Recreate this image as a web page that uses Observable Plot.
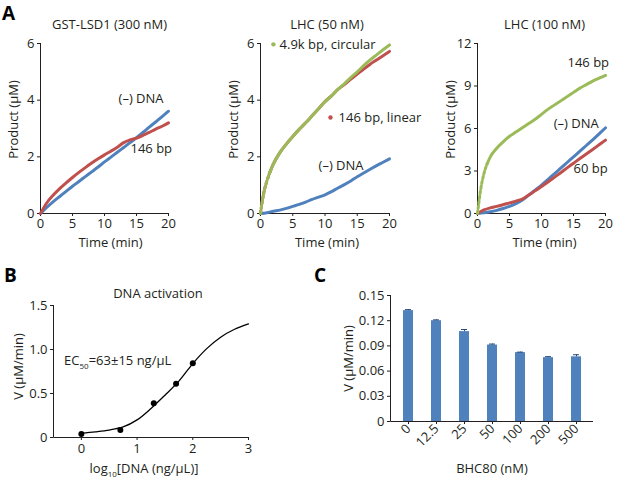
<!DOCTYPE html>
<html><head><meta charset="utf-8">
<script src="https://cdn.jsdelivr.net/npm/d3@7"></script>
<script src="https://cdn.jsdelivr.net/npm/@observablehq/plot@0.6"></script>
<style>
body{margin:0;background:#fff;}
#wrap{position:relative;width:617px;height:479px;overflow:hidden;font-family:"Open Sans",sans-serif;color:#231f20;}
#wrap svg{position:absolute;overflow:visible;}
.pl{position:absolute;font:bold 19px "Open Sans",sans-serif;line-height:22px;color:#000;}
</style></head><body><div id="wrap">
<div class="pl" style="left:2px;top:2px">A</div>
<div class="pl" style="left:4px;top:264px">B</div>
<div class="pl" style="left:314px;top:264px">C</div>
</div>
<script>
// ---------- data ----------
const time = [0,1,2,3,4,5,6,7,8,9,10,11,12,13,14,15,16,17,18,19,20];
const timeFine = [0,0.25,0.5,1,1.5,2,3,4,5,6,7,8,9,10,11,12,13,14,15,16,17,18,19,20];

// A1: GST-LSD1 (300 nM)
const a1NoDNA = [0,0.22,0.42,0.6,0.78,0.96,1.13,1.3,1.47,1.64,1.82,1.99,2.16,2.33,2.5,2.68,2.86,3.05,3.23,3.42,3.61];
const a1Bp146 = [0,0.38,0.65,0.88,1.08,1.27,1.45,1.62,1.78,1.93,2.07,2.2,2.34,2.5,2.6,2.66,2.76,2.86,2.98,3.08,3.2];

// A2: LHC (50 nM)
const a2Circular = [0,0.4,0.72,1.15,1.48,1.75,2.15,2.45,2.72,2.97,3.2,3.45,3.7,3.95,4.15,4.38,4.58,4.8,5.0,5.22,5.42,5.6,5.78,5.95];
const a2Linear   = [0,0.4,0.72,1.15,1.48,1.75,2.15,2.45,2.72,2.97,3.2,3.45,3.7,3.95,4.15,4.38,4.55,4.74,4.92,5.1,5.27,5.42,5.57,5.72];
const a2NoDNA = [0,0.03,0.08,0.12,0.18,0.25,0.32,0.4,0.5,0.58,0.66,0.77,0.9,1.02,1.15,1.3,1.43,1.56,1.69,1.81,1.93];

// A3: LHC (100 nM)
const a3Bp146 = [0,0.9,1.7,2.8,3.5,4.0,4.6,5.05,5.45,5.75,6.05,6.35,6.65,7.0,7.35,7.65,7.95,8.25,8.55,8.85,9.1,9.35,9.55,9.75];
const a3NoDNA = [0,0.05,0.12,0.22,0.35,0.5,0.7,0.95,1.3,1.65,2.0,2.4,2.8,3.2,3.6,4.0,4.4,4.8,5.2,5.62,6.05];
const a3Bp60  = [0,0.25,0.4,0.5,0.62,0.75,0.87,1.02,1.3,1.6,1.9,2.22,2.55,2.88,3.22,3.55,3.88,4.2,4.52,4.85,5.18];

// B: DNA activation
const bLogDNA = [0,0.7,1.3,1.7,2.0];
const bRate   = [0.04,0.085,0.39,0.61,0.845];
const bFitX = [0,0.25,0.5,0.75,1,1.25,1.5,1.75,2,2.25,2.5,2.75,3];
const bFitY = [0.05,0.065,0.085,0.12,0.2,0.33,0.48,0.64,0.84,1.01,1.14,1.23,1.29];

// C: BHC80 titration
const cBHC80 = ["0","12.5","25","50","100","200","500"];
const cRate  = [0.132,0.120,0.107,0.091,0.082,0.076,0.077];
const cErr   = [0.0012,0.001,0.0025,0.0012,0.0006,0.0012,0.0025];

// ---------- helpers ----------
const INK = "#231f20";
const BLUE = "#4f81bd", RED = "#c0504d", GREEN = "#9bbb59";
const wrap = document.getElementById("wrap");
const pts = (xs, ys) => xs.map((x, i) => ({x, y: ys[i]}));
const baseStyle = {fontFamily: "Open Sans", fontSize: "13px", color: INK, background: "transparent", overflow: "visible"};
const EARLY = 1.5; // rapid early rise is drawn as sparse dots in the reference

function axisLines() {
  return (index, scales, values, d) => {
    const g = d3.create("svg:g").attr("stroke", INK).attr("stroke-width", 1).attr("fill", "none");
    const x0 = d.marginLeft + 0.5, x1 = d.width - d.marginRight, y0 = d.marginTop, y1 = d.height - d.marginBottom + 0.5;
    g.append("line").attr("x1", x0).attr("x2", x0).attr("y1", y0).attr("y2", y1);
    g.append("line").attr("x1", x0).attr("x2", x1).attr("y1", y1).attr("y2", y1);
    return g.node();
  };
}

function subscripts(svg) {
  d3.select(svg).selectAll("text").each(function() {
    const s = this.textContent;
    if (!s.includes("_{")) return;
    const sel = d3.select(this);
    sel.text(null);
    let prevSub = false;
    s.split(/(_\{[^}]*\})/).forEach(part => {
      if (!part) return;
      if (part.startsWith("_{")) {
        sel.append("tspan").attr("font-size", "8px").attr("dy", "4px").text(part.slice(2, -1));
        prevSub = true;
      } else {
        const t = sel.append("tspan").text(part);
        if (prevSub) t.attr("dy", "-4px");
        prevSub = false;
      }
    });
  });
}

function place(svg, left, top) {
  svg.style.left = left + "px";
  svg.style.top = top + "px";
  wrap.appendChild(svg);
}

function seriesMarks([data, color, dottedStart]) {
  if (!dottedStart) return [Plot.line(data, {x: "x", y: "y", stroke: color, strokeWidth: 3, curve: "monotone-x"})];
  const early = data.filter(d => d.x <= EARLY), late = data.filter(d => d.x >= EARLY);
  return [
    Plot.line(early, {x: "x", y: "y", stroke: color, strokeWidth: 3, curve: "monotone-x", strokeDasharray: "2.5,2.5"}),
    Plot.line(late, {x: "x", y: "y", stroke: color, strokeWidth: 3, curve: "monotone-x"})
  ];
}

function panelA({left, width, mLeft, mRight, yMax, yTicks, title, titleDx, xLabDx, lines, labels, dots}) {
  const svg = Plot.plot({
    width, height: 250,
    marginLeft: mLeft, marginRight: mRight, marginTop: 43, marginBottom: 37,
    style: baseStyle,
    x: {domain: [0, 20], ticks: [0,5,10,15,20], tickFormat: d => String(d), tickSize: 3, tickPadding: 2, label: null},
    y: {domain: [0, yMax], ticks: yTicks, tickFormat: d => String(d), tickSize: 3, tickPadding: 3, label: null},
    marks: [
      axisLines(),
      ...lines.flatMap(seriesMarks),
      ...(dots || []).map(([x, y, color]) => Plot.dot([{x, y}], {x: "x", y: "y", r: 2.2, fill: color, stroke: null})),
      ...labels.map(([text, x, y]) => Plot.text([{x, y, text}], {x: "x", y: "y", text: "text", textAnchor: "start", fill: INK, fontSize: 13})),
      Plot.text([title], {frameAnchor: "top", dy: -19, dx: titleDx, textAnchor: "middle", lineAnchor: "middle", fill: INK, fontSize: 13}),
      Plot.text(["Time (min)"], {frameAnchor: "bottom", dy: 29, dx: xLabDx, textAnchor: "middle", lineAnchor: "middle", fill: INK, fontSize: 13}),
      Plot.text(["Product (µM)"], {frameAnchor: "left", rotate: -90, dx: -27, dy: -9, textAnchor: "middle", lineAnchor: "middle", fill: INK, fontSize: 13})
    ]
  });
  place(svg, left, 0);
}

// ---------- panel A ----------
panelA({
  left: 0, width: 200, mLeft: 40, mRight: 32, yMax: 6, yTicks: [0,2,4,6],
  title: "GST-LSD1 (300 nM)", titleDx: 5, xLabDx: 6,
  lines: [[pts(time, a1NoDNA), BLUE], [pts(time, a1Bp146), RED]],
  labels: [["(–) DNA", 12.2, 4.04], ["146 bp", 14.06, 2.28]]
});
panelA({
  left: 200, width: 205, mLeft: 60, mRight: 16, yMax: 6, yTicks: [0,2,4,6],
  title: "LHC (50 nM)", titleDx: 2, xLabDx: 2,
  lines: [[pts(time, a2NoDNA), BLUE], [pts(timeFine, a2Linear), RED, true], [pts(timeFine, a2Circular), GREEN, true]],
  labels: [["4.9k bp, circular", 2.95, 5.97], ["146 bp, linear", 12.1, 3.39], ["(–) DNA", 9.0, 1.69]],
  dots: [[2.0, 5.97, GREEN], [10.85, 3.39, RED]]
});
panelA({
  left: 405, width: 212, mLeft: 72, mRight: 12, yMax: 12, yTicks: [0,3,6,9,12],
  title: "LHC (100 nM)", titleDx: 3, xLabDx: 3,
  lines: [[pts(time, a3NoDNA), BLUE], [pts(time, a3Bp60), RED], [pts(timeFine, a3Bp146), GREEN, true]],
  labels: [["146 bp", 14.06, 10.66], ["(–) DNA", 11.9, 6.35], ["60 bp", 15.0, 3.18]]
});

// ---------- panel B ----------
{
  const svg = Plot.plot({
    width: 300, height: 219,
    marginLeft: 53, marginRight: 52, marginTop: 45, marginBottom: 42,
    style: baseStyle,
    x: {domain: [-0.5, 3], ticks: [0,1,2,3], tickFormat: d => String(d), tickSize: 3, tickPadding: 3, label: null},
    y: {domain: [0, 1.5], ticks: [0,0.5,1,1.5], tickFormat: d => d === 0 ? "0" : d.toFixed(1), tickSize: 3, tickPadding: 3, label: null},
    marks: [
      axisLines(),
      Plot.line(pts(bFitX, bFitY), {x: "x", y: "y", stroke: "#000", strokeWidth: 1.3, curve: "catmull-rom"}),
      Plot.dot(pts(bLogDNA, bRate), {x: "x", y: "y", r: 3, fill: "#000", stroke: null}),
      Plot.text([{x: -0.31, y: 0.875, t: "EC_{50}=63±15 ng/µL"}], {x: "x", y: "y", text: "t", textAnchor: "start", fill: INK, fontSize: 13}),
      Plot.text(["DNA activation"], {frameAnchor: "top", dy: -12, dx: 7, textAnchor: "middle", lineAnchor: "middle", fill: INK, fontSize: 13}),
      Plot.text(["log_{10}[DNA (ng/µL)]"], {frameAnchor: "bottom", dy: 31, dx: -7, textAnchor: "middle", lineAnchor: "middle", fill: INK, fontSize: 13}),
      Plot.text(["V (µM/min)"], {frameAnchor: "left", rotate: -90, dx: -35, dy: -5, textAnchor: "middle", lineAnchor: "middle", fill: INK, fontSize: 13})
    ]
  });
  subscripts(svg);
  place(svg, 0, 260);
}

// ---------- panel C ----------
{
  const bars = cBHC80.map((c, i) => ({c, v: cRate[i], hi: cRate[i] + cErr[i]}));
  const svg = Plot.plot({
    width: 312, height: 219,
    marginLeft: 85, marginRight: 24, marginTop: 35, marginBottom: 58,
    style: baseStyle,
    x: {domain: cBHC80, paddingInner: 0.65, paddingOuter: 0.4, tickSize: 3, tickPadding: 2, tickRotate: -45, label: null},
    y: {domain: [0, 0.15], ticks: [0,0.03,0.06,0.09,0.12,0.15], tickFormat: d => d === 0 ? "0" : d.toFixed(2), tickSize: 3, tickPadding: 3, label: null},
    marks: [
      Plot.barY(bars, {x: "c", y: "v", fill: BLUE}),
      Plot.ruleX(bars, {x: "c", y1: "v", y2: "hi", stroke: "#2a4a7a", strokeWidth: 1}),
      Plot.tickY(bars, {x: "c", y: "hi", stroke: "#2a4a7a", strokeWidth: 1, insetLeft: 2, insetRight: 2}),
      axisLines(),
      Plot.text(["BHC80 (nM)"], {frameAnchor: "bottom", dy: 47, textAnchor: "middle", lineAnchor: "middle", fill: INK, fontSize: 13}),
      Plot.text(["V (µM/min)"], {frameAnchor: "left", rotate: -90, dx: -42, textAnchor: "middle", lineAnchor: "middle", fill: INK, fontSize: 13})
    ]
  });
  place(svg, 305, 260);
}
</script>
</body></html>
